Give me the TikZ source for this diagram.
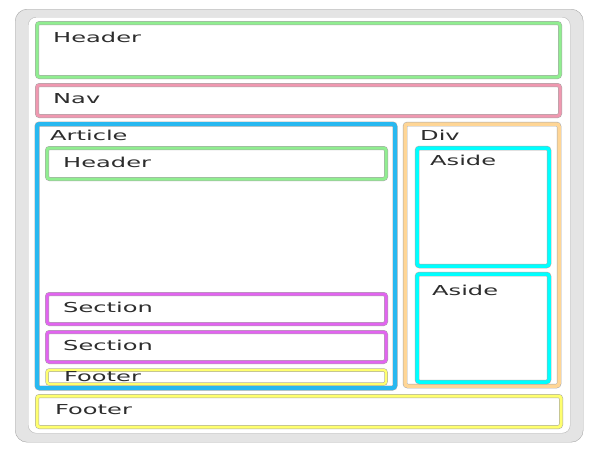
\documentclass[tikz,border=0pt]{standalone}
\usepackage{fontspec}
\setmainfont{DejaVu Sans}[FakeStretch=1.76]
\usepackage{tikz}
\definecolor{pagegray}{RGB}{228,228,228}
\definecolor{edgegray}{RGB}{168,168,168}
\definecolor{hdrgreen}{RGB}{144,238,144}
\definecolor{navpink}{RGB}{240,152,176}
\definecolor{artblue}{RGB}{40,184,240}
\definecolor{secviolet}{RGB}{226,100,240}
\definecolor{ftryellow}{RGB}{255,255,110}
\definecolor{divpeach}{RGB}{255,214,150}
\definecolor{asidecyan}{RGB}{0,255,255}
\definecolor{txtgray}{RGB}{45,45,45}

\begin{document}
\begin{tikzpicture}[x=1pt, y=-1pt,
    box/.style={draw=edgegray, line width=0.5pt, double=#1, double distance=3pt,
        rounded corners=2.5pt, inner sep=0pt, outer sep=0pt, anchor=north west},
    lbl/.style={anchor=base west, inner sep=0pt, text=txtgray,
        font=\fontsize{13.7}{16}\selectfont}]
    \useasboundingbox (0,0) rectangle (598,451);

    % page frame
    \node[draw=gray!70, fill=pagegray, rounded corners=12pt, anchor=north west,
        minimum width=568pt, minimum height=433pt] (page) at (15,9) {};
    \node[draw=gray!55, fill=white, rounded corners=8pt, anchor=north west,
        minimum width=542pt, minimum height=416pt] (sheet) at (28,17) {};

    % top level blocks
    \node[box=hdrgreen, minimum width=523pt, minimum height=54pt] (hdr) at (37,23) {};
    \node[box=navpink, minimum width=523pt, minimum height=31pt] (nav) at (37,85) {};
    \node[box=artblue, double distance=4pt, minimum width=358pt, minimum height=264pt] (art) at (37,124) {};
    \node[box=divpeach, double distance=3.5pt, minimum width=154pt, minimum height=262pt] (div) at (405,124) {};
    \node[box=ftryellow, minimum width=524pt, minimum height=31pt] (ftr) at (37,396) {};

    % inside the article
    \node[box=hdrgreen, minimum width=339pt, minimum height=31pt] (arthdr) at (47,148) {};
    \node[box=secviolet, minimum width=339pt, minimum height=30pt] (secone) at (47,294) {};
    \node[box=secviolet, minimum width=339pt, minimum height=30pt] (sectwo) at (47,332) {};
    \node[box=ftryellow, double distance=2.5pt, minimum width=339pt, minimum height=14pt] (artftr) at (47,370) {};

    % inside the div
    \node[box=asidecyan, double distance=3.5pt, minimum width=132pt, minimum height=118pt] (asideone) at (417,148) {};
    \node[box=asidecyan, double distance=3.5pt, minimum width=132pt, minimum height=108pt] (asidetwo) at (417,274) {};

    % labels
    \node[lbl] (hdrtxt) at (53,42) {Header};
    \node[lbl] (navtxt) at (53,103) {Nav};
    \node[lbl] (arttxt) at (50,140) {Article};
    \node[lbl] (arthdrtxt) at (63,167) {Header};
    \node[lbl] (seconetxt) at (63,312) {Section};
    \node[lbl] (sectwotxt) at (63,350) {Section};
    \node[lbl] (artftrtxt) at (64,381) {Footer};
    \node[lbl] (ftrtxt) at (55,414) {Footer};
    \node[lbl] (divtxt) at (420,140) {Div};
    \node[lbl] (asideonetxt) at (430,165) {Aside};
    \node[lbl] (asidetwotxt) at (432,295) {Aside};
\end{tikzpicture}
\end{document}
